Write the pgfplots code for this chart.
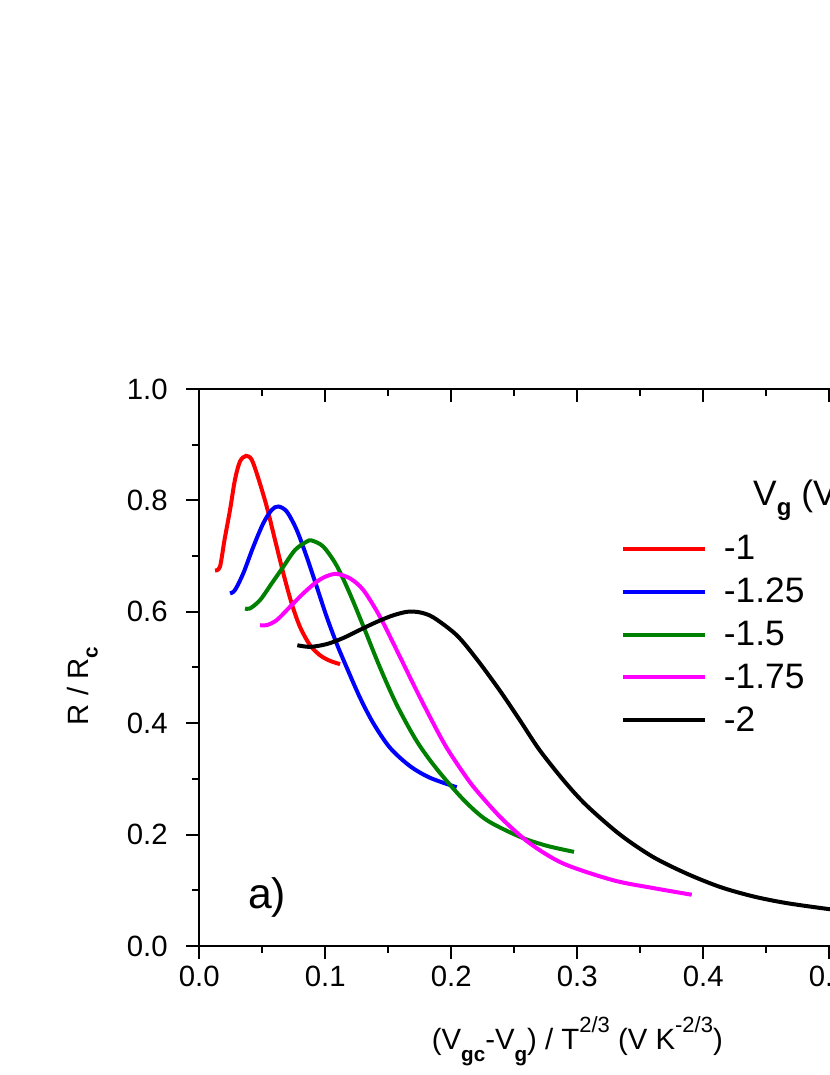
\documentclass[border=0pt]{standalone}
\usepackage{fontspec}
\setmainfont{Liberation Sans}
\usepackage{pgfplots}
\pgfplotsset{compat=1.18}
\definecolor{cRed}{RGB}{255,0,0}
\definecolor{cBlue}{RGB}{0,0,255}
\definecolor{cGreen}{RGB}{0,128,0}
\definecolor{cMag}{RGB}{255,0,255}
\begin{document}
\begin{tikzpicture}
\path[use as bounding box] (0,0) rectangle (622.5pt,806.25pt);
\clip (0,0) rectangle (622.5pt,806.25pt);
\begin{axis}[
  at={(149.475pt,96.75pt)}, anchor=south west,
  scale only axis, width=567pt, height=417.75pt,
  xmin=0, xmax=0.6, ymin=0, ymax=1,
  axis x line*=bottom, axis y line*=left,
  axis line style={-, line width=1.5pt},
  tick align=outside, major tick length=9.75pt, minor tick length=5.25pt,
  every tick/.style={black, line width=1.5pt},
  xtick={0,0.1,0.2,0.3,0.4,0.5,0.6}, ytick={0,0.2,0.4,0.6,0.8,1.0},
  minor x tick num=1, minor y tick num=1,
  /pgf/number format/.cd, fixed, fixed zerofill, precision=1, assume math mode=true,
  /pgfplots/.cd,
  tick label style={font=\fontsize{22}{26}\selectfont},
  yticklabel style={xshift=-10.5pt},
  xticklabel style={yshift=-2pt},
  xlabel={(V\raisebox{-9.3pt}{\fontsize{15.5}{16}\selectfont\bfseries gc}-V\raisebox{-9.3pt}{\fontsize{15.5}{16}\selectfont\bfseries g}) / T\raisebox{13pt}{\fontsize{16.5}{17}\selectfont 2/3} (V K\raisebox{13pt}{\fontsize{16.5}{17}\selectfont -2/3})},
  xlabel style={font=\fontsize{22}{26}\selectfont, at={(rel axis cs:0.5,0)}, anchor=base, yshift=-77.5pt},
  ylabel={R / R\raisebox{-7pt}{\fontsize{15.5}{16}\selectfont\bfseries c}},
  ylabel style={font=\fontsize{22}{26}\selectfont, at={(rel axis cs:0,0.467)}, anchor=base, yshift=83.25pt},
  legend style={at={(axis cs:0.3347,0.7425)}, anchor=north west, draw=none, fill=none,
    font=\fontsize{26.5}{32}\selectfont, inner sep=0pt, row sep=8.4pt,
    /tikz/every odd column/.append style={column sep=10.5pt}},
  legend cell align=left,
  legend image code/.code={\draw[#1] (0pt,0pt) -- (61.5pt,0pt);},
  every axis plot/.append style={line width=3pt, smooth, tension=0.5},
]
\addplot[cRed] coordinates {(0.0125,0.674)(0.0164,0.681)(0.0200,0.729)(0.0244,0.783)(0.0283,0.837)(0.0323,0.870)(0.0371,0.880)(0.0416,0.873)(0.0468,0.840)(0.0535,0.789)(0.0601,0.729)(0.0667,0.669)(0.0733,0.615)(0.0799,0.573)(0.0879,0.540)(0.0958,0.522)(0.1037,0.512)(0.1117,0.506)};
\addlegendentry{-1}
\addplot[cBlue] coordinates {(0.0244,0.633)(0.0283,0.639)(0.0349,0.669)(0.0429,0.717)(0.0508,0.759)(0.0575,0.783)(0.0627,0.789)(0.0694,0.780)(0.0773,0.747)(0.0852,0.699)(0.0932,0.645)(0.1011,0.591)(0.1090,0.543)(0.1170,0.500)(0.1275,0.446)(0.1381,0.400)(0.1513,0.356)(0.1672,0.323)(0.1831,0.302)(0.2043,0.285)};
\addlegendentry{-1.25}
\addplot[cGreen] coordinates {(0.0363,0.606)(0.0402,0.606)(0.0482,0.621)(0.0575,0.651)(0.0667,0.681)(0.0760,0.711)(0.0852,0.726)(0.0892,0.728)(0.0984,0.717)(0.1090,0.683)(0.1196,0.632)(0.1302,0.574)(0.1434,0.500)(0.1567,0.433)(0.1725,0.368)(0.1884,0.318)(0.2095,0.263)(0.2281,0.226)(0.2545,0.196)(0.2757,0.180)(0.2974,0.169)};
\addlegendentry{-1.5}
\addplot[cMag] coordinates {(0.0482,0.576)(0.0535,0.576)(0.0614,0.585)(0.0720,0.609)(0.0825,0.633)(0.0932,0.654)(0.1011,0.664)(0.1090,0.668)(0.1196,0.660)(0.1302,0.639)(0.1434,0.591)(0.1593,0.519)(0.1752,0.446)(0.1950,0.361)(0.2135,0.298)(0.2254,0.265)(0.2413,0.226)(0.2625,0.184)(0.2889,0.148)(0.3286,0.118)(0.3603,0.104)(0.3908,0.092)};
\addlegendentry{-1.75}
\addplot[black] coordinates {(0.0778,0.540)(0.0879,0.537)(0.1011,0.542)(0.1143,0.553)(0.1270,0.567)(0.1400,0.581)(0.1530,0.593)(0.1650,0.600)(0.1750,0.599)(0.1857,0.590)(0.2043,0.558)(0.2202,0.515)(0.2387,0.458)(0.2545,0.405)(0.2700,0.352)(0.2900,0.295)(0.3075,0.252)(0.3339,0.200)(0.3600,0.160)(0.3868,0.130)(0.4133,0.106)(0.4397,0.089)(0.4662,0.077)(0.5005,0.066)(0.5200,0.061)};
\addlegendentry{-2}
\node[anchor=base west, inner sep=0pt, font=\fontsize{26.5}{32}\selectfont] at (axis cs:0.4394,0.790) {V\raisebox{-7pt}{\fontsize{18}{19}\selectfont\bfseries g} (V)};
\node[anchor=base west, inner sep=0pt, font=\fontsize{32}{36}\selectfont] at (axis cs:0.0385,0.068) {a)};
\end{axis}
\begin{axis}[
  at={(149.475pt,96.75pt)}, anchor=south west,
  scale only axis, width=567pt, height=417.75pt,
  xmin=0, xmax=0.6, ymin=0, ymax=1,
  axis x line*=top, axis y line*=right,
  axis line style={-, line width=1.5pt},
  tick align=inside, major tick length=9.75pt, minor tick length=5.25pt,
  every tick/.style={black, line width=1.5pt},
  xtick={0,0.1,0.2,0.3,0.4,0.5,0.6}, ytick={0,0.2,0.4,0.6,0.8,1.0},
  minor x tick num=1, minor y tick num=1,
  xticklabels={}, yticklabels={},
]
\end{axis}
\end{tikzpicture}
\end{document}
